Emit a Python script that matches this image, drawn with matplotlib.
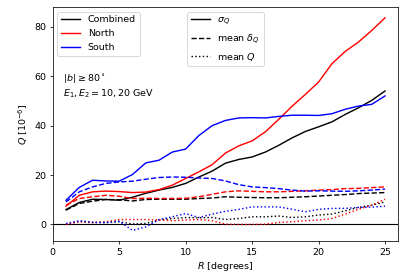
import numpy as np
import matplotlib
matplotlib.use('Agg')
from matplotlib import pyplot as plt
from matplotlib.lines import Line2D

# Radius of the region [degrees]
R = np.arange(1, 26)

# sigma_Q (solid)
sigma_comb = [6.0, 8.9, 10.2, 10.1, 9.8, 11.0, 12.6, 13.9, 15.0, 16.6, 19.2, 21.6,
              24.8, 26.3, 27.3, 29.3, 32.0, 35.0, 37.6, 39.5, 41.5, 44.5, 47.2, 50.2, 54.0]
sigma_north = [7.4, 11.8, 13.2, 13.5, 13.3, 12.9, 13.1, 14.1, 15.9, 18.6, 21.3, 24.2,
               28.9, 31.8, 33.8, 37.5, 42.5, 47.8, 52.6, 57.6, 65.0, 70.0, 73.8, 78.5, 83.6]
sigma_south = [9.8, 15.0, 17.9, 17.6, 17.5, 20.2, 24.9, 26.0, 29.3, 30.5, 36.0, 40.0,
               42.1, 43.1, 43.2, 43.1, 43.7, 44.2, 44.2, 44.1, 44.8, 46.6, 47.9, 48.6, 52.0]

# mean delta_Q (dashed)
dq_comb = [5.8, 8.5, 9.4, 10.1, 10.0, 9.5, 10.1, 10.2, 10.2, 10.2, 10.5, 10.7,
           11.2, 11.0, 10.9, 10.8, 10.8, 11.0, 11.2, 11.5, 11.8, 12.1, 12.5, 12.7, 12.9]
dq_north = [7.8, 10.5, 11.2, 11.8, 11.4, 10.5, 10.6, 10.5, 10.5, 10.6, 11.2, 12.2,
            13.2, 13.6, 13.4, 13.2, 13.2, 13.4, 13.6, 13.9, 14.1, 14.5, 14.6, 14.9, 15.2]
dq_south = [9.1, 13.2, 15.2, 16.6, 17.2, 17.5, 18.3, 19.0, 19.2, 19.1, 18.8, 18.6,
            17.6, 16.1, 15.2, 14.9, 14.5, 13.9, 13.5, 13.6, 13.5, 13.4, 13.6, 13.9, 14.3]

# mean Q (dotted)
q_comb = [0.0, 1.3, 0.8, 0.8, 1.1, 0.2, 0.4, 1.8, 2.4, 2.8, 2.7, 2.8,
          2.0, 2.4, 3.1, 3.1, 3.4, 2.8, 3.1, 3.8, 4.2, 5.5, 6.9, 7.8, 9.1]
q_north = [0.0, 1.1, 0.7, 1.1, 2.0, 2.0, 2.0, 1.8, 1.5, 1.8, 2.0, 1.5,
           0.1, 0.0, 0.0, 0.1, 0.8, 1.1, 1.5, 1.8, 2.4, 4.2, 6.1, 7.8, 10.2]
q_south = [0.4, 1.5, 0.9, 0.7, 1.3, -2.4, -1.0, 2.0, 3.1, 4.4, 2.8, 4.2,
           5.3, 6.1, 7.1, 7.1, 7.1, 6.2, 5.1, 6.1, 6.5, 6.5, 6.9, 7.0, 7.4]

regions = ['Combined', 'North', 'South']
colors = ['k', 'r', 'b']

dpi = 68
fig = plt.figure(figsize=(407/dpi, 271/dpi), dpi=dpi)
ax = fig.add_axes([0.1295, 0.1107, 0.8491, 0.8635])

ax.axhline(0, color='k', lw=1.2)
for c, s, d, q in zip(colors,
                      [sigma_comb, sigma_north, sigma_south],
                      [dq_comb, dq_north, dq_south],
                      [q_comb, q_north, q_south]):
    ax.plot(R, s, '-', color=c)
    ax.plot(R, d, '--', color=c)
    ax.plot(R, q, ':', color=c)

ax.set_xlim(0, 26)
ax.set_ylim(-6.7, 88)
ax.set_xticks([0, 5, 10, 15, 20, 25])
ax.set_yticks([0, 20, 40, 60, 80])
ax.set_xlabel('$R$ [degrees]')
ax.set_ylabel('$Q$ [$10^{-6}$]')

h1 = [Line2D([], [], color=c, ls='-') for c in colors]
leg1 = ax.legend(h1, regions, loc='upper left')
ax.add_artist(leg1)
h2 = [Line2D([], [], color='k', ls=s) for s in ['-', '--', ':']]
ax.legend(h2, [r'$\sigma_Q$', r'mean $\delta_Q$', r'mean $Q$'], loc='upper center')

ax.text(0.03, 0.72, '$|b| \\geq 80^\\circ$\n$E_1, E_2 = 10, 20$ GeV',
        transform=ax.transAxes, va='top', ha='left')

fig.savefig('out.png', dpi=dpi)
